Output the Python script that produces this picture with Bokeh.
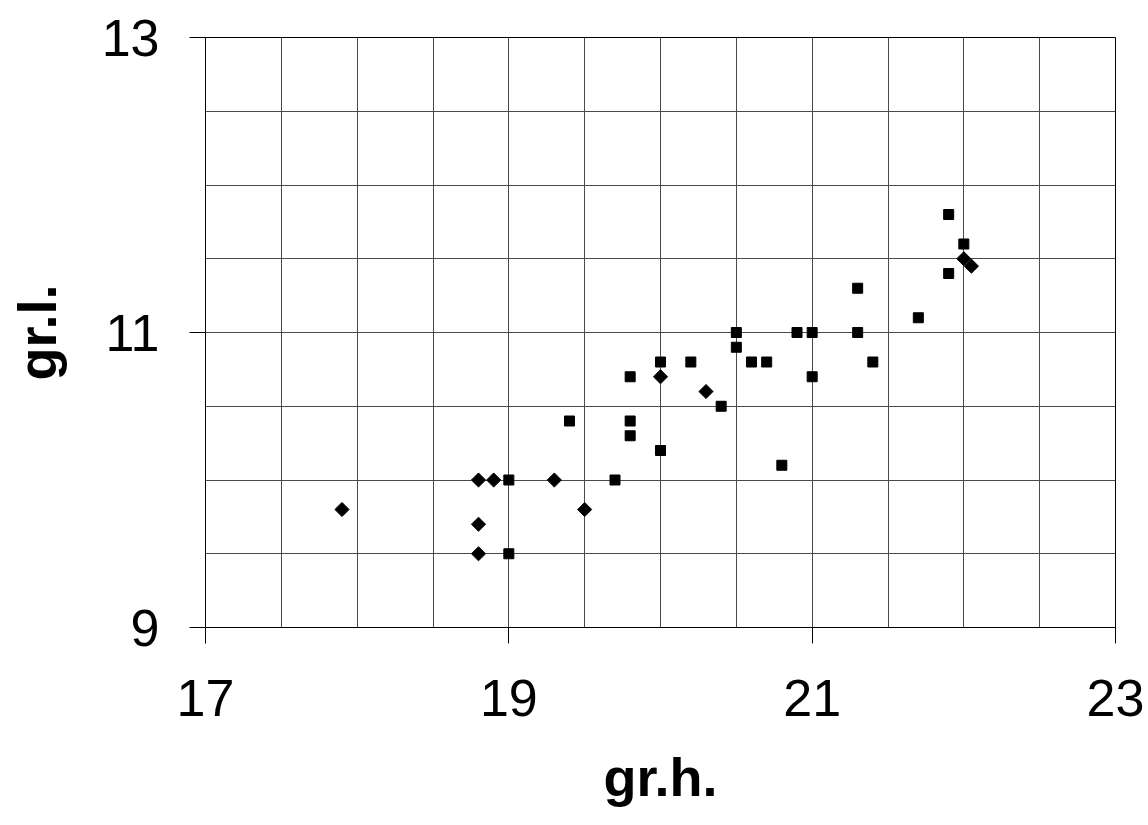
from bokeh.plotting import figure
from bokeh.models import Range1d, FixedTicker, ColumnDataSource
from bokeh.embed import file_html
from bokeh.resources import INLINE
import numpy as np

# Series 1 (diamonds)
dia_x = [17.9, 18.8, 18.9, 18.8, 18.8, 19.3, 19.5, 20.0, 20.3, 22.0, 22.05]
dia_y = [9.8, 10.0, 10.0, 9.7, 9.5, 10.0, 9.8, 10.7, 10.6, 11.5, 11.45]

# Series 2 (squares)
sq_x = [19.0, 19.0, 19.7, 19.4, 19.8, 19.8, 19.8, 20.0, 20.0, 20.2, 20.4, 20.5, 20.5,
        20.6, 20.7, 20.8, 20.9, 21.0, 21.0, 21.3, 21.3, 21.4, 21.7, 21.9, 22.0, 21.9]
sq_y = [10.0, 9.5, 10.0, 10.4, 10.4, 10.3, 10.7, 10.8, 10.2, 10.8, 10.5, 11.0, 10.9,
        10.8, 10.8, 10.1, 11.0, 11.0, 10.7, 11.0, 11.3, 10.8, 11.1, 11.8, 11.6, 11.4]

x_ticks = [17, 19, 21, 23]
y_ticks = [9, 11, 13]
x_grid_minor = [17.5, 18, 18.5, 19.5, 20, 20.5, 21.5, 22, 22.5]
y_grid_minor = [9.5, 10, 10.5, 11.5, 12, 12.5]

W, H = 1148, 825
p = figure(width=W, height=H, output_backend="svg", toolbar_location=None,
           x_range=Range1d(17, 23), y_range=Range1d(9, 13),
           min_border_left=205, min_border_top=37, min_border_right=W - 1115,
           min_border_bottom=H - 627)

p.background_fill_color = "white"
p.border_fill_color = "white"
p.outline_line_color = "black"
p.outline_line_width = 1

p.xaxis.ticker = FixedTicker(ticks=x_ticks, minor_ticks=x_grid_minor)
p.yaxis.ticker = FixedTicker(ticks=y_ticks, minor_ticks=y_grid_minor)

for g in (p.xgrid, p.ygrid):
    g.grid_line_color = "#4a4a4a"
    g.grid_line_width = 1
    g.minor_grid_line_color = "#4a4a4a"
    g.minor_grid_line_width = 1

for ax in (p.xaxis, p.yaxis):
    ax.axis_line_color = "black"
    ax.major_tick_line_color = "black"
    ax.major_tick_out = 16
    ax.major_tick_in = 0
    ax.minor_tick_line_color = None
    ax.major_label_text_font = "Liberation Sans"
    ax.major_label_text_font_size = "52px"
    ax.major_label_text_color = "black"
    ax.axis_label_text_font = "Liberation Sans"
    ax.axis_label_text_font_size = "54px"
    ax.axis_label_text_font_style = "bold"
    ax.axis_label_text_color = "black"

p.xaxis.major_label_standoff = 36
p.yaxis.major_label_standoff = 30
p.xaxis.axis_label = "gr.h."
p.yaxis.axis_label = "gr.l."
p.xaxis.axis_label_standoff = 28
p.yaxis.axis_label_standoff = 32

src_sq = ColumnDataSource(dict(x=sq_x, y=sq_y))
src_dia = ColumnDataSource(dict(x=dia_x, y=dia_y))
p.scatter("x", "y", source=src_sq, marker="square", size=10,
          fill_color="black", line_color="black")
p.scatter("x", "y", source=src_dia, marker="square", size=10, angle=np.pi / 4,
          fill_color="black", line_color="black")

open("out.html", "w").write(file_html(p, INLINE))
